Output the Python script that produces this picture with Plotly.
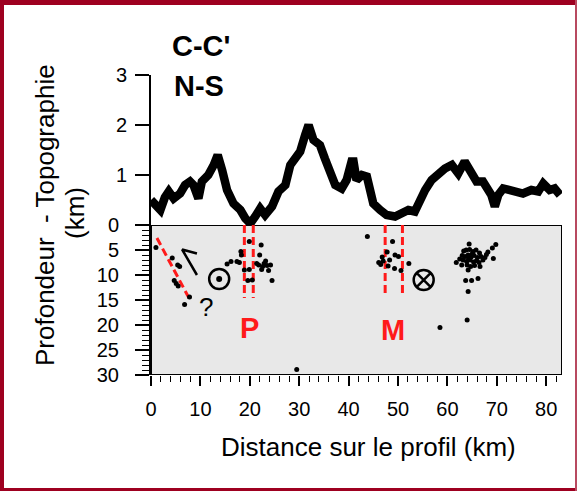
import plotly.graph_objects as go

# ---------------- data ----------------
topo_km = [0.0, 1.0, 1.9, 2.8, 3.6, 4.6, 5.9, 6.9, 7.9, 8.6, 9.6, 10.3, 11.6, 12.7, 13.5,
           14.4, 15.4, 16.7, 18.1, 19.1, 20.1, 21.1, 22.1, 23.1, 24.5, 25.8, 27.2, 28.2,
           29.2, 30.2, 31.2, 31.9, 32.9, 34.2, 35.2, 36.3, 37.3, 38.6, 39.6, 40.6, 41.0,
           41.6, 42.7, 43.7, 44.3, 45.0, 46.4, 47.7, 49.4, 51.1, 52.1, 53.4, 54.4, 55.5,
           56.8, 58.1, 59.5, 60.9, 62.2, 63.5, 64.6, 65.9, 67.2, 68.3, 68.9, 69.6, 70.3,
           71.3, 73.3, 75.3, 77.0, 78.4, 79.4, 80.7, 81.7, 82.8]
topo_km_elev = [0.5, 0.42, 0.3, 0.55, 0.67, 0.53, 0.63, 0.8, 0.87, 0.8, 0.53, 0.87, 1.0, 1.2, 1.4,
                1.1, 0.7, 0.43, 0.3, 0.13, 0.03, 0.17, 0.33, 0.2, 0.37, 0.67, 0.8, 1.2,
                1.33, 1.47, 1.8, 2.0, 1.7, 1.6, 1.33, 1.07, 0.8, 0.73, 0.9, 1.27, 1.27,
                0.9, 1.0, 0.97, 0.7, 0.43, 0.3, 0.2, 0.17, 0.23, 0.3, 0.27, 0.5, 0.7,
                0.9, 1.03, 1.13, 1.2, 1.03, 1.27, 1.1, 0.87, 0.87, 0.73, 0.6, 0.37, 0.6,
                0.73, 0.67, 0.63, 0.7, 0.67, 0.83, 0.7, 0.73, 0.6]

quake_km = [1.0, 4.3, 5.4, 5.8, 4.7, 5.1, 5.5, 7.8, 6.8,
            15.4, 16.2, 17.4, 18.2, 18.3, 17.9, 19.9, 18.9, 19.9, 20.5, 19.6, 22.3, 22.0,
            21.4, 22.9, 23.5, 22.4, 23.8, 24.5, 21.8, 22.6, 23.2, 24.2, 29.5,
            43.8, 48.9, 47.8, 46.8, 46.1, 47.0, 48.3, 49.4, 50.1, 48.0, 49.3, 50.6, 52.2, 46.5,
            61.8, 64.4, 69.8, 69.1, 68.2, 67.9, 69.3, 67.2, 66.6, 64.2, 62.9, 63.7, 64.9,
            66.2, 64.2, 64.0, 58.5,
            63.3, 63.8, 64.5, 65.2, 65.8, 66.5, 63.0, 63.6, 64.2, 64.8, 65.4, 66.1, 66.8,
            63.2, 63.9, 64.6, 65.3, 65.9, 66.4, 64.0, 64.7, 65.5, 62.5, 67.6, 64.3, 65.0]
quake_depth = [4.5, 6.6, 8.0, 8.3, 11.1, 11.7, 12.2, 14.4, 15.9,
               7.8, 7.3, 7.3, 5.3, 6.0, 7.5, 3.3, 9.0, 8.9, 11.0, 11.1, 4.0, 6.0,
               7.7, 7.7, 8.1, 8.9, 9.1, 11.1, 8.0, 8.3, 7.2, 8.0, 28.9,
               2.3, 3.3, 5.4, 6.4, 7.5, 7.2, 7.0, 6.0, 6.3, 8.2, 8.7, 9.1, 7.7, 7.9,
               7.5, 3.8, 3.9, 4.6, 5.4, 5.9, 6.7, 7.0, 8.3, 9.0, 8.0, 11.1, 11.1,
               10.7, 13.3, 19.0, 20.5,
               5.2, 5.0, 4.9, 5.3, 5.0, 5.6, 6.1, 6.3, 6.0, 6.4, 6.1, 6.5, 6.3,
               7.0, 7.3, 7.0, 7.4, 7.1, 7.5, 8.0, 8.3, 8.1, 6.8, 6.5, 6.7, 5.8]

fault_P_km = [18.9, 20.7]
fault_M_km = [47.4, 50.9]
fault_P_depth = [0.0, 14.6]
fault_M_depth = [0.0, 14.0]
fault_diag_km = [1.2, 7.9]
fault_diag_depth = [2.6, 15.0]

arrow_km = [9.3, 6.3, 9.3]
arrow_depth = [10.0, 4.9, 5.7]

out_of_plane_km, out_of_plane_depth = 13.8, 10.8   # ⊙
into_plane_km, into_plane_depth = 55.2, 11.0       # ⊗

x_ticks = [0, 10, 20, 30, 40, 50, 60, 70, 80]
topo_ticks = [0, 1, 2, 3]
topo_ticktext = ["", "1", "2", "3"]
depth_ticks = [0, 5, 10, 15, 20, 25, 30]

FONT = "Liberation Sans, Arial, Helvetica, sans-serif"
RED = "#ff1a1a"
BORDER = "#9e0020"

W, H = 577, 491
ML, MR, MT, MB = 151, 15, 75, 116
PW, PH = W - ML - MR, H - MT - MB


def px(x):
    return (x - ML) / PW


def py(y):
    return (H - MB - y) / PH


fig = go.Figure()

# topography
fig.add_trace(go.Scatter(x=topo_km, y=topo_km_elev, mode="lines", xaxis="x", yaxis="y",
                         line=dict(color="black", width=8.5, shape="linear"),
                         hoverinfo="skip", showlegend=False))

# faults (red dashed)
for xs, dep in ((fault_P_km, fault_P_depth), (fault_M_km, fault_M_depth)):
    for xv in xs:
        fig.add_trace(go.Scatter(x=[xv, xv], y=dep, mode="lines", xaxis="x", yaxis="y2",
                                 line=dict(color=RED, width=3, dash="8px,4px"),
                                 showlegend=False, hoverinfo="skip"))
fig.add_trace(go.Scatter(x=fault_diag_km, y=fault_diag_depth, mode="lines", xaxis="x", yaxis="y2",
                         line=dict(color=RED, width=3, dash="8px,4px"),
                         showlegend=False, hoverinfo="skip"))

# earthquakes
fig.add_trace(go.Scatter(x=quake_km, y=quake_depth, mode="markers", xaxis="x", yaxis="y2",
                         marker=dict(color="black", size=5, symbol="circle"),
                         showlegend=False, hoverinfo="skip"))

# arrow
fig.add_trace(go.Scatter(x=arrow_km, y=arrow_depth, mode="lines", xaxis="x", yaxis="y2",
                         line=dict(color="black", width=2.5),
                         showlegend=False, hoverinfo="skip"))

# motion symbols
fig.add_trace(go.Scatter(x=[out_of_plane_km], y=[out_of_plane_depth], mode="markers",
                         xaxis="x", yaxis="y2",
                         marker=dict(symbol="circle-open", size=20, color="black",
                                     line=dict(width=2.5, color="black")),
                         showlegend=False, hoverinfo="skip"))
fig.add_trace(go.Scatter(x=[out_of_plane_km], y=[out_of_plane_depth], mode="markers",
                         xaxis="x", yaxis="y2",
                         marker=dict(symbol="circle", size=6, color="black"),
                         showlegend=False, hoverinfo="skip"))
fig.add_trace(go.Scatter(x=[into_plane_km], y=[into_plane_depth], mode="markers",
                         xaxis="x", yaxis="y2",
                         marker=dict(symbol="circle-x-open", size=20, color="black",
                                     line=dict(width=2.5, color="black")),
                         showlegend=False, hoverinfo="skip"))

shapes = [
    dict(type="rect", xref="x", yref="y2", x0=0, x1=83.2, y0=0, y1=30,
         fillcolor="#e8e8e8", line=dict(color="black", width=2), layer="below"),
    # frame border
    dict(type="rect", xref="paper", yref="paper", x0=px(0), x1=px(4), y0=py(491), y1=py(0),
         fillcolor=BORDER, line=dict(width=0)),
    dict(type="rect", xref="paper", yref="paper", x0=px(0), x1=px(577), y0=py(5), y1=py(0),
         fillcolor=BORDER, line=dict(width=0)),
    dict(type="rect", xref="paper", yref="paper", x0=px(0), x1=px(577), y0=py(491), y1=py(488),
         fillcolor=BORDER, line=dict(width=0)),
    dict(type="rect", xref="paper", yref="paper", x0=px(575), x1=px(577), y0=py(491), y1=py(0),
         fillcolor="#b84a60", line=dict(width=0)),
]

annotations = [
    dict(text="<b>C-C'</b>", x=px(201), y=py(46), xref="paper", yref="paper", showarrow=False,
         font=dict(size=29, color="black", family=FONT), xanchor="center", yanchor="middle"),
    dict(text="<b>N-S</b>", x=px(199), y=py(86), xref="paper", yref="paper", showarrow=False,
         font=dict(size=29, color="black", family=FONT), xanchor="center", yanchor="middle"),
    dict(text="Profondeur \u00a0- Topographie", x=px(45), y=py(215), xref="paper", yref="paper",
         showarrow=False, textangle=-90, font=dict(size=26, color="black", family=FONT),
         xanchor="center", yanchor="middle"),
    dict(text="(km)", x=px(75), y=py(213), xref="paper", yref="paper",
         showarrow=False, textangle=-90, font=dict(size=26, color="black", family=FONT),
         xanchor="center", yanchor="middle"),
    dict(text="Distance sur le profil (km)", x=px(368), y=py(447), xref="paper", yref="paper",
         showarrow=False, font=dict(size=26, color="black", family=FONT),
         xanchor="center", yanchor="middle"),
    dict(text="<b>P</b>", x=20.0, y=20.6, xref="x", yref="y2", showarrow=False,
         font=dict(size=29, color=RED, family=FONT), xanchor="center", yanchor="middle"),
    dict(text="<b>M</b>", x=49.0, y=21.0, xref="x", yref="y2", showarrow=False,
         font=dict(size=29, color=RED, family=FONT), xanchor="center", yanchor="middle"),
    dict(text="?", x=11.2, y=16.3, xref="x", yref="y2", showarrow=False,
         font=dict(size=26, color="black", family=FONT), xanchor="center", yanchor="middle"),
]

fig.update_layout(
    width=W, height=H,
    margin=dict(l=ML, r=MR, t=MT, b=MB, pad=0),
    paper_bgcolor="white", plot_bgcolor="rgba(0,0,0,0)",
    font=dict(family=FONT, color="black"),
    showlegend=False,
    shapes=shapes,
    annotations=annotations,
    xaxis=dict(domain=[0, 1], range=[0, 83.2], anchor="y2", tickvals=x_ticks,
               ticks="outside", ticklen=10, tickwidth=1.5, tickcolor="black",
               minor=dict(dtick=2, tick0=0, ticks="outside", ticklen=6, tickwidth=1, tickcolor="black"),
               showline=False, showgrid=False, zeroline=False,
               tickfont=dict(size=20, family=FONT, color="black"), ticklabelstandoff=6),
    yaxis=dict(domain=[0.49, 1], range=[-0.06, 3], anchor="x", tickvals=topo_ticks,
               ticktext=topo_ticktext, ticks="outside", ticklen=14, tickwidth=1.5,
               tickcolor="black", showline=True, linecolor="black", linewidth=2,
               showgrid=False, zeroline=False,
               tickfont=dict(size=20, family=FONT, color="black"), ticklabelstandoff=4),
    yaxis2=dict(domain=[0, 0.5], range=[30, 0], anchor="x", tickvals=depth_ticks,
                ticks="outside", ticklen=14, tickwidth=1.5, tickcolor="black",
                minor=dict(dtick=1, tick0=0, ticks="outside", ticklen=7, tickwidth=1, tickcolor="black"),
                showline=True, linecolor="black", linewidth=2,
                showgrid=False, zeroline=False,
                tickfont=dict(size=20, family=FONT, color="black"), ticklabelstandoff=12),
)

fig.write_html("out.html")
